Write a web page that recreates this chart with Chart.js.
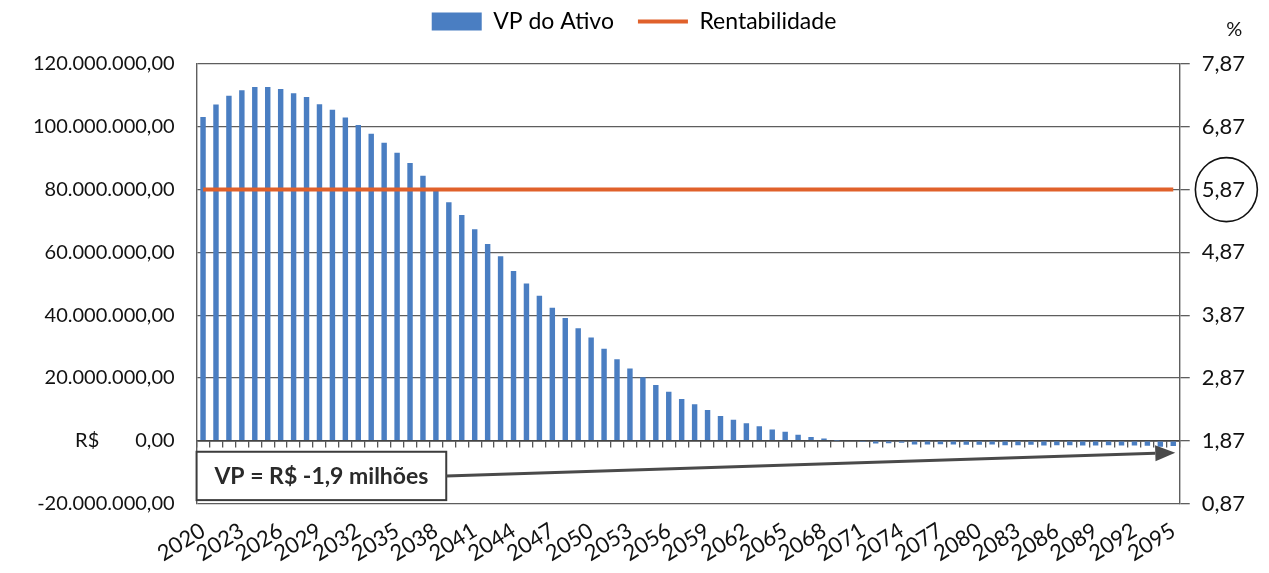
<!DOCTYPE html>
<html lang="pt-BR">
<head>
<meta charset="utf-8">
<title>VP do Ativo e Rentabilidade</title>
<script src="https://cdn.jsdelivr.net/npm/chart.js@4.4.1/dist/chart.umd.min.js"></script>
<style>
  html, body { margin: 0; padding: 0; background: #ffffff; }
  #wrap { width: 1269px; height: 573px; position: relative; }
</style>
</head>
<body>
<div id="wrap"><canvas id="grafico"></canvas></div>
<script>
// Anos da projeção
const anos = [
  '2020','2021','2022','2023','2024','2025','2026','2027','2028','2029',
  '2030','2031','2032','2033','2034','2035','2036','2037','2038','2039',
  '2040','2041','2042','2043','2044','2045','2046','2047','2048','2049',
  '2050','2051','2052','2053','2054','2055','2056','2057','2058','2059',
  '2060','2061','2062','2063','2064','2065','2066','2067','2068','2069',
  '2070','2071','2072','2073','2074','2075','2076','2077','2078','2079',
  '2080','2081','2082','2083','2084','2085','2086','2087','2088','2089',
  '2090','2091','2092','2093','2094','2095'
];

// Valor presente do ativo por ano, em milhões de R$
const vpAtivoMilhoes = [
  103.1, 107.1, 109.9, 111.6, 112.7, 112.7, 112.0, 110.7, 109.5, 107.2,
  105.4, 103.0, 100.6,  97.8,  94.9,  91.7,  88.5,  84.4,  79.8,  76.0,
   71.9,  67.4,  62.7,  58.8,  54.1,  50.1,  46.2,  42.4,  39.1,  35.8,
   32.9,  29.3,  26.0,  23.0,  20.2,  17.8,  15.6,  13.3,  11.6,   9.8,
    7.9,   6.7,   5.6,   4.6,   3.6,   2.9,   1.9,   1.2,   0.7,   0.1,
    0.0,  -0.4,  -0.9,  -0.8,  -0.6,  -1.2,  -1.2,  -1.1,  -1.2,  -1.3,
   -1.3,  -1.2,  -1.4,  -1.4,  -1.3,  -1.5,  -1.4,  -1.4,  -1.5,  -1.5,
   -1.4,  -1.5,  -1.5,  -1.6,  -1.9,  -1.7
];

// Rentabilidade anual (%)
const rentabilidade = [
  5.87, 5.87, 5.87, 5.87, 5.87, 5.87, 5.87, 5.87, 5.87, 5.87,
  5.87, 5.87, 5.87, 5.87, 5.87, 5.87, 5.87, 5.87, 5.87, 5.87,
  5.87, 5.87, 5.87, 5.87, 5.87, 5.87, 5.87, 5.87, 5.87, 5.87,
  5.87, 5.87, 5.87, 5.87, 5.87, 5.87, 5.87, 5.87, 5.87, 5.87,
  5.87, 5.87, 5.87, 5.87, 5.87, 5.87, 5.87, 5.87, 5.87, 5.87,
  5.87, 5.87, 5.87, 5.87, 5.87, 5.87, 5.87, 5.87, 5.87, 5.87,
  5.87, 5.87, 5.87, 5.87, 5.87, 5.87, 5.87, 5.87, 5.87, 5.87,
  5.87, 5.87, 5.87, 5.87, 5.87, 5.87
];

// Escalas dos eixos
const eixoRS = { min: -20000000, max: 120000000, passo: 20000000 };
const eixoPct = { min: 0.87, max: 7.87, passo: 1 };
const taxaDestacada = 5.87;
const passoRotulosAno = 3;

// Nota com o VP final
const notaTexto = 'VP = R$ -1,9 milhões';
const notaCaixa = { ateCategoria: 18.8, topo: -3.5e6, base: -18.9e6 };
const notaSeta = { deValor: -11.2e6, ateValor: -3.8e6 };

const FONTE = 'Lato, "Open Sans", sans-serif';
const COR_TEXTO = '#121212';
const COR_GRADE = '#5e5e5e';
const COR_BARRA = '#4a7ec2';
const COR_LINHA = '#e0612b';

function formatoReais(v) {
  const neg = v < 0;
  const s = Math.abs(Math.round(v)).toString().replace(/\B(?=(\d{3})+(?!\d))/g, '.');
  return (neg ? '-' : '') + s + ',00';
}
function formatoPct(v) {
  return v.toFixed(2).replace('.', ',');
}

// Espaço extra entre a legenda e a área do gráfico
const espacoLegenda = {
  id: 'espacoLegenda',
  beforeInit(chart) {
    const legenda = chart.legend;
    if (!legenda) return;
    const fitOriginal = legenda.fit;
    legenda.fit = function () {
      fitOriginal.call(this);
      this.height += 21;
    };
  }
};

// Elementos desenhados por cima do gráfico: R$, %, círculo, nota e seta
const extras = {
  id: 'extras',
  afterDraw(chart) {
    const { ctx, chartArea: ca } = chart;
    const x = chart.scales.x, y = chart.scales.y, y2 = chart.scales.y2;
    ctx.save();
    ctx.fillStyle = COR_TEXTO;
    ctx.textBaseline = 'middle';

    // "R$" ao lado do zero
    ctx.font = '20px ' + FONTE;
    const yZero = y.getPixelForValue(0);
    const fimRotulos = y.right - y.options.ticks.padding;
    const largZero = ctx.measureText(formatoReais(0)).width;
    ctx.textAlign = 'right';
    ctx.fillText('R$', fimRotulos - largZero - 36, yZero);

    // eixo direito: posição dos rótulos
    ctx.font = '22px ' + FONTE;
    const iniRotDir = y2.left + y2.options.grid.tickLength + y2.options.ticks.padding;
    const larg587 = ctx.measureText(formatoPct(taxaDestacada)).width;
    const cx = iniRotDir + larg587 / 2;

    // "%" no topo do eixo direito
    ctx.font = '20px ' + FONTE;
    ctx.textAlign = 'center';
    ctx.fillText('%', cx + 11, ca.top - 34);

    // círculo em volta da taxa destacada
    ctx.beginPath();
    ctx.strokeStyle = '#111';
    ctx.lineWidth = 1.6;
    ctx.ellipse(cx + 3, y2.getPixelForValue(taxaDestacada), 31, 32, 0, 0, Math.PI * 2);
    ctx.stroke();

    // caixa da nota
    const passo = x.getPixelForValue(1) - x.getPixelForValue(0);
    const i0 = Math.floor(notaCaixa.ateCategoria);
    const xDir = x.getPixelForValue(i0) + (notaCaixa.ateCategoria - i0) * passo;
    const xEsq = ca.left;
    const yTopo = y.getPixelForValue(notaCaixa.topo);
    const yBase = y.getPixelForValue(notaCaixa.base);
    ctx.fillStyle = '#ffffff';
    ctx.fillRect(xEsq, yTopo, xDir - xEsq, yBase - yTopo);
    ctx.strokeStyle = '#3c3c3c';
    ctx.lineWidth = 2;
    ctx.strokeRect(xEsq, yTopo, xDir - xEsq, yBase - yTopo);
    ctx.fillStyle = '#2a2a2a';
    ctx.font = 'bold 23px ' + FONTE;
    ctx.textAlign = 'center';
    ctx.fillText(notaTexto, (xEsq + xDir) / 2, (yTopo + yBase) / 2 + 1);

    // seta até o último ano
    const xs = xDir, ys = y.getPixelForValue(notaSeta.deValor);
    const xf = x.getPixelForValue(anos.length - 1) + 2, yf = y.getPixelForValue(notaSeta.ateValor);
    const ang = Math.atan2(yf - ys, xf - xs);
    const cab = 20, meia = 8;
    const bx = xf - cab * Math.cos(ang), by = yf - cab * Math.sin(ang);
    ctx.strokeStyle = '#4a4a4a';
    ctx.fillStyle = '#4a4a4a';
    ctx.lineWidth = 3;
    ctx.beginPath();
    ctx.moveTo(xs, ys);
    ctx.lineTo(bx, by);
    ctx.stroke();
    ctx.beginPath();
    ctx.moveTo(xf, yf);
    ctx.lineTo(bx + meia * Math.sin(ang), by - meia * Math.cos(ang));
    ctx.lineTo(bx - meia * Math.sin(ang), by + meia * Math.cos(ang));
    ctx.closePath();
    ctx.fill();
    ctx.restore();
  }
};

new Chart(document.getElementById('grafico'), {
  data: {
    labels: anos,
    datasets: [
      {
        type: 'bar',
        label: 'VP do Ativo',
        data: vpAtivoMilhoes.map(v => v * 1e6),
        backgroundColor: COR_BARRA,
        borderWidth: 0,
        barPercentage: 0.42,
        categoryPercentage: 1,
        xAxisID: 'x',
        yAxisID: 'y',
        order: 2
      },
      {
        type: 'line',
        label: 'Rentabilidade',
        data: rentabilidade,
        borderColor: COR_LINHA,
        backgroundColor: COR_LINHA,
        borderWidth: 4,
        pointRadius: 0,
        tension: 0,
        xAxisID: 'x',
        yAxisID: 'y2',
        order: 1
      }
    ]
  },
  options: {
    responsive: true,
    maintainAspectRatio: false,
    animation: false,
    layout: { padding: { left: 11, right: 12, top: -14, bottom: 0 } },
    plugins: {
      tooltip: { enabled: false },
      legend: {
        position: 'top',
        align: 'center',
        labels: {
          usePointStyle: true,
          pointStyleWidth: 50,
          boxHeight: 18,
          padding: 24,
          color: COR_TEXTO,
          font: { family: FONTE, size: 23 },
          generateLabels(chart) {
            return chart.data.datasets.map((ds, i) => ({
              text: ds.label,
              fillStyle: ds.backgroundColor,
              strokeStyle: ds.borderColor || ds.backgroundColor,
              lineWidth: ds.type === 'line' ? 4 : 0,
              pointStyle: ds.type === 'line' ? 'line' : 'rect',
              datasetIndex: i,
              hidden: false
            }));
          }
        }
      }
    },
    scales: {
      x: {
        type: 'category',
        position: 'bottom',
        offset: true,
        grid: { display: false },
        border: { display: false },
        ticks: {
          autoSkip: false,
          minRotation: 32,
          maxRotation: 32,
          padding: 6,
          color: COR_TEXTO,
          font: { family: FONTE, size: 22 },
          callback: (v, i) => (i % passoRotulosAno === 0 ? anos[i] : '')
        }
      },
      xz: {
        type: 'category',
        axis: 'x',
        position: { y: 0 },
        offset: true,
        grid: { display: true, offset: true, drawOnChartArea: false, drawTicks: true, tickLength: 6, color: '#555555', lineWidth: 1.3 },
        border: { display: true, color: '#444444', width: 1.6 },
        ticks: { display: false }
      },
      y: {
        position: 'left',
        min: eixoRS.min,
        max: eixoRS.max,
        ticks: {
          stepSize: eixoRS.passo,
          padding: 22,
          color: COR_TEXTO,
          font: { family: FONTE, size: 20 },
          callback: v => formatoReais(v)
        },
        grid: {
          drawTicks: false,
          color: c => (c.tick && c.tick.value === 0 ? '#3c3c3c' : COR_GRADE),
          lineWidth: c => (c.tick && c.tick.value === 0 ? 1.6 : 1.3)
        },
        border: { display: true, color: COR_GRADE, width: 1.4 }
      },
      y2: {
        position: 'right',
        min: eixoPct.min,
        max: eixoPct.max,
        ticks: {
          stepSize: eixoPct.passo,
          padding: 12,
          color: COR_TEXTO,
          font: { family: FONTE, size: 22 },
          callback: v => formatoPct(v)
        },
        grid: { drawOnChartArea: false, drawTicks: true, tickLength: 10, color: COR_GRADE, lineWidth: 1.3 },
        border: { display: true, color: COR_GRADE, width: 1.4 }
      }
    }
  },
  plugins: [espacoLegenda, extras]
});
</script>
</body>
</html>
